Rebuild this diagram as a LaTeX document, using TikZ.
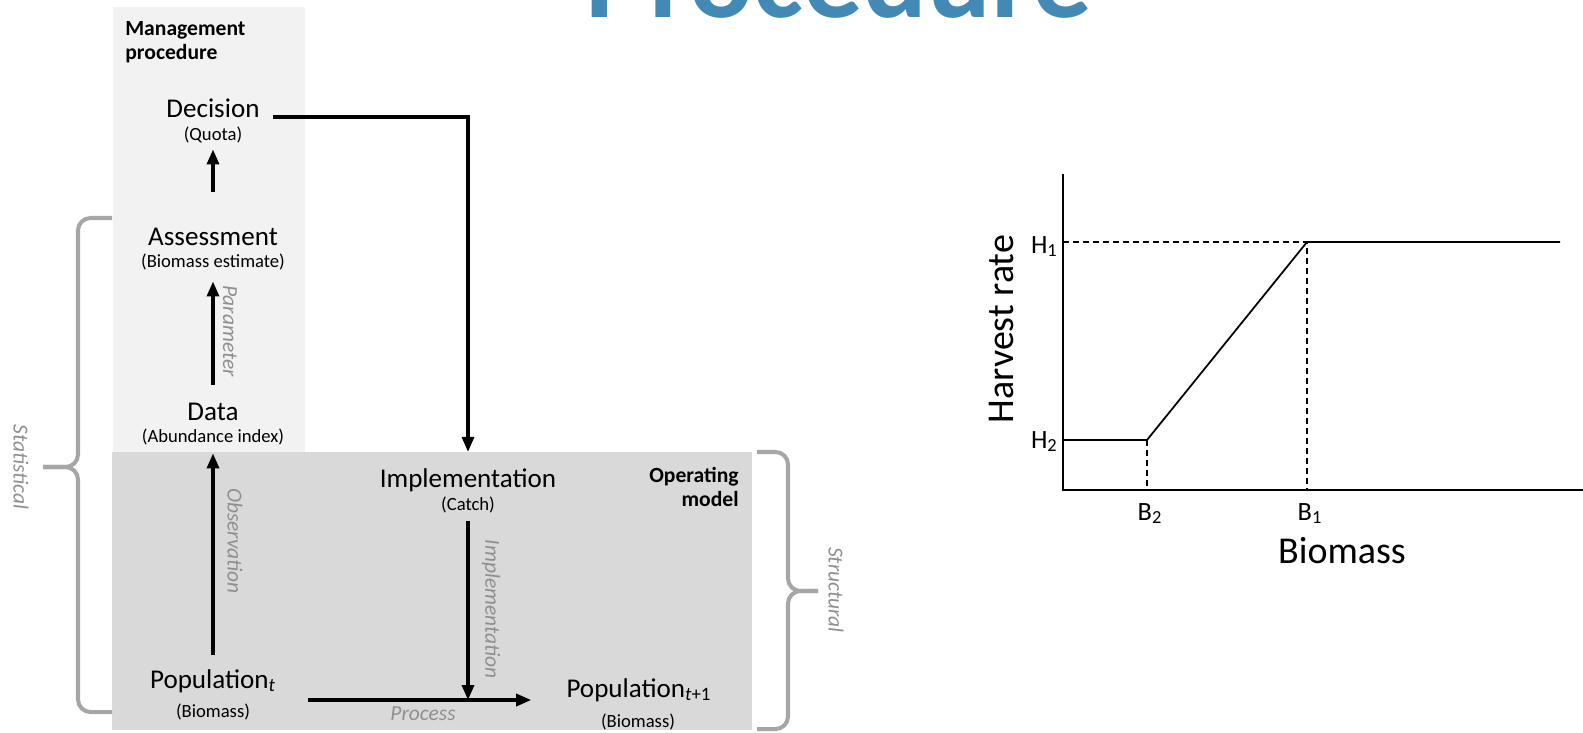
\documentclass[tikz,border=0pt]{standalone}
\usepackage{fontspec}
\setmainfont{Carlito}
\usetikzlibrary{arrows.meta}

\definecolor{mpfill}{HTML}{F2F2F2}
\definecolor{omfill}{HTML}{D9D9D9}
\definecolor{bracegray}{HTML}{A6A6A6}
\definecolor{notegray}{HTML}{8F8F8F}
\definecolor{titleblue}{HTML}{428AB5}

\begin{document}
\begin{tikzpicture}[x=0.2mm, y=-0.2mm, every node/.style={inner sep=0pt},
    lbl/.style={anchor=base, font=\fontsize{15.4}{18}\selectfont},
    sub/.style={anchor=base, font=\fontsize{10.6}{13}\selectfont},
    head/.style={font=\fontsize{12.3}{13.7}\selectfont\bfseries},
    note/.style={text=notegray, font=\fontsize{12.2}{14}\selectfont\itshape},
    flow/.style={line width=1.9pt, -{Triangle[length=3mm,width=2.4mm]}},
    curly/.style={draw=bracegray, line width=2.3pt, rounded corners=2.5mm},
    axis/.style={line width=1pt},
    guide/.style={line width=0.85pt, dash pattern=on 1.2mm off 0.8mm},
    tick/.style={anchor=base, font=\fontsize{15}{18}\selectfont},
    axlabel/.style={font=\fontsize{21.6}{26}\selectfont}]

    \useasboundingbox (0,0) rectangle (1583,732);
    \clip (0,0) rectangle (1583,732);

    % Boxes
    \fill[mpfill] (113,7) rectangle (305,452);
    \fill[omfill] (112,452) rectangle (752,730);
    \node[anchor=base, text=titleblue, font=\fontsize{67.7}{80}\selectfont\bfseries] (title) at (839,17) {Procedure};
    \node[head, anchor=north west, align=left] (mp) at (125,21) {Management\\procedure};
    \node[head, anchor=north east, align=right] (om) at (739,467) {Operating\\model};

    % Steps
    \node[lbl] (decision) at (213,117) {Decision};
    \node[sub] (quota) at (213,140) {(Quota)};
    \node[lbl] (assess) at (213,245) {Assessment};
    \node[sub] (estimate) at (213,267) {(Biomass estimate)};
    \node[lbl] (data) at (213,420) {Data};
    \node[sub] (abund) at (213,442) {(Abundance index)};
    \node[lbl] (impl) at (468,487) {Implementation};
    \node[sub] (catch) at (468,510) {(Catch)};
    \node[lbl] (popt) at (213,688) {Population\textsubscript{\textit{t}}};
    \node[sub] (biot) at (213,717) {(Biomass)};
    \node[lbl] (popnext) at (639,697) {Population\textsubscript{\textit{t}+1}};
    \node[sub] (bionext) at (638,727) {(Biomass)};
    \coordinate (join) at (468,700);

    % Connections
    \draw[flow, shorten <=7.1mm, shorten >=1.3mm] (assess) -- (quota);
    \draw[flow, shorten <=3.5mm, shorten >=2.3mm] (data) -- (estimate);
    \draw[flow, shorten <=2.8mm, shorten >=1.7mm] (popt) -- (abund);
    \draw[flow, shorten <=2.7mm, shorten >=3.2mm] (decision.base east) -| (impl);
    \draw[flow, shorten <=1.6mm] (catch) -- (join);
    \draw[flow, shorten <=6.4mm, shorten >=7mm] (popt.east |- join) -- (popnext.west |- join);

    % Arrow notes
    \node[note, rotate=-90] (param) at (230,331) {Parameter};
    \node[note, rotate=-90] (obs) at (235,541) {Observation};
    \node[note, rotate=-90] (implnote) at (491,609) {Implementation};
    \node[note, anchor=base] (proc) at (423,720) {Process};

    % Braces
    \draw[curly] (112,218) -- (78,218) -- (78,467) -- (43,467);
    \draw[curly] (43,467) -- (78,467) -- (78,712) -- (112,712);
    \draw[curly] (757,452) -- (788,452) -- (788,591) -- (818,591);
    \draw[curly] (818,591) -- (788,591) -- (788,729) -- (757,729);
    \node[note, rotate=-90] (stat) at (21,467) {Statistical};
    \node[note, rotate=-90] (struct) at (836,590) {Structural};

    % Harvest control rule
    \coordinate (ytop) at (1063,174);
    \coordinate (orig) at (1063,490);
    \coordinate (xend) at (1583,490);
    \coordinate (hhigh) at (1063,242);
    \coordinate (hlow) at (1063,440);
    \coordinate (kneelow) at (1147,440);
    \coordinate (kneehigh) at (1307,242);
    \coordinate (hend) at (1560,242);
    \coordinate (blow) at (1147,490);
    \coordinate (bhigh) at (1307,490);
    \draw[axis] (ytop) -- (orig) -- (xend);
    \draw[axis] (hlow) -- (kneelow) -- (kneehigh) -- (hend);
    \draw[guide] (hhigh) -- (kneehigh) -- (bhigh);
    \draw[guide] (kneelow) -- (blow);
    \node[tick, anchor=base east] (hone) at (1058,253) {H\textsubscript{1}};
    \node[tick, anchor=base east] (htwo) at (1058,448) {H\textsubscript{2}};
    \node[tick] (btwo) at (1150,520) {B\textsubscript{2}};
    \node[tick] (bone) at (1310,520) {B\textsubscript{1}};
    \node[axlabel, anchor=base] (xlab) at (1342,563) {Biomass};
    \node[axlabel, rotate=90] (ylab) at (1001,329) {Harvest rate};
\end{tikzpicture}
\end{document}
